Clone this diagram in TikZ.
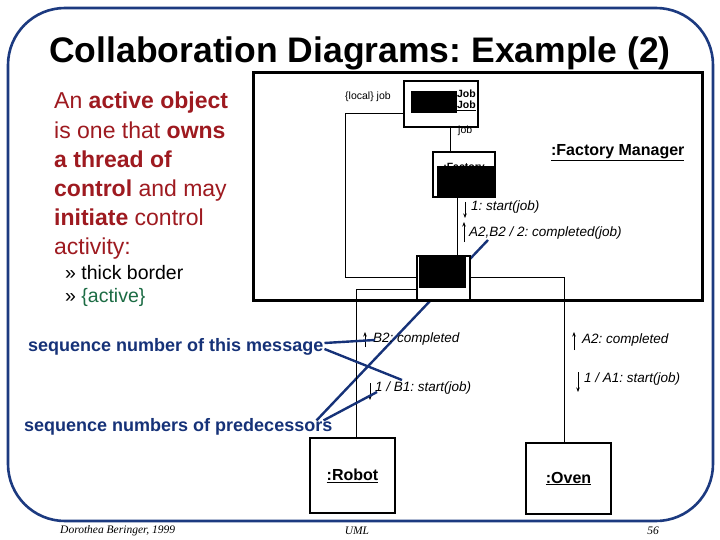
\documentclass[tikz,border=0pt]{standalone}
\usepackage{fontspec}
\setmainfont{Liberation Sans}
\newfontfamily\footfont{Liberation Serif}
\usetikzlibrary{arrows.meta}
\frenchspacing

\definecolor{frameblue}{RGB}{28,58,128}
\definecolor{noteblue}{RGB}{22,50,120}
\definecolor{introred}{RGB}{158,26,32}
\definecolor{activegreen}{RGB}{28,108,68}

\begin{document}
\begin{tikzpicture}[x=1pt,y=-1pt,
    obj/.style={draw,fill=white,line width=1.3pt,inner sep=0pt},
    link/.style={draw,line width=0.9pt},
    msg/.style={anchor=west,inner sep=0pt,font=\fontsize{13.5}{15}\selectfont\itshape},
    note/.style={anchor=west,inner sep=0pt,text=noteblue,font=\fontsize{18}{20}\selectfont\bfseries},
    pointer/.style={noteblue,line width=2.4pt},
    msgarrow/.style={-{Stealth[length=4.5pt,width=3.5pt]},line width=0.7pt},
    small/.style={inner sep=0pt,font=\fontsize{10.5}{12}\selectfont}]

\useasboundingbox (0,0) rectangle (720,540);
\fill[white] (0,0) rectangle (720,540);
\draw[frameblue,line width=2.6pt,rounded corners=57pt] (8,8) rectangle (713,521);

\node[font=\fontsize{35.5}{40}\selectfont\bfseries] (title) at (360,53) {Collaboration Diagrams: Example (2)};

\node[anchor=north west,align=left,inner sep=0pt,text=introred,font=\fontsize{23}{29.2}\selectfont] (intro) at (54,92)
  {An \textbf{active object}\\is one that \textbf{owns}\\\textbf{a thread of}\\\textbf{control} and may\\\textbf{initiate} control\\activity:};
\node[anchor=north west,align=left,inner sep=0pt,font=\fontsize{19.5}{23}\selectfont] (bullets) at (65,265)
  {» thick border\\» \textcolor{activegreen}{\{active\}}};

% annotations
\node[note] (seqthis) at (28,347) {sequence number of this message};
\node[note] (seqpred) at (24,427) {sequence numbers of predecessors};
\coordinate (tB2) at (375,340);
\coordinate (tB1) at (402,380);
\coordinate (tOne) at (377,392);
\coordinate (tA2B2) at (488,240);
\draw[pointer] ([xshift=-16pt,yshift=-2pt]seqpred.north east) -- (tA2B2);

% objects
\node[draw,line width=3pt,minimum width=449pt,minimum height=227pt,inner sep=0pt] (fm) at (477.5,186.5) {};
\node[anchor=east,font=\fontsize{16}{18}\selectfont\bfseries] (fmlabel) at (688,153) {\underline{:Factory Manager}};

\node[obj,minimum width=74pt,minimum height=46pt] (job) at (441,104) {};
\node[obj,minimum width=62pt,minimum height=45pt] (factory) at (464,174.5) {};
\node[obj,line width=1.6pt,minimum width=53pt,minimum height=44pt] (active) at (443.5,278) {};
\node[obj,line width=1.8pt,minimum width=85pt,minimum height=75pt,font=\fontsize{16}{18}\selectfont\bfseries] (robot) at (352.5,475.5) {\underline{:Robot}};
\node[obj,line width=1.8pt,minimum width=85pt,minimum height=71pt,font=\fontsize{16}{18}\selectfont\bfseries] (oven) at (568.5,478.5) {\underline{:Oven}};

\node[small,anchor=east,font=\fontsize{10.5}{12}\selectfont\bfseries] (jobtop) at (476,94) {aJob};
\node[small,anchor=east,font=\fontsize{10.5}{12}\selectfont\bfseries] (jobbot) at (476,106) {\underline{:Job}};
\node[small,font=\fontsize{10.5}{12}\selectfont\bfseries] (factext) at (464,168) {:Factory};

\fill[black] (411,91) rectangle (457,113);
\fill[black] (437,166) rectangle (495,197);
\fill[black] (419,257) rectangle (466,288);

\node[small,anchor=west] (local) at (345,97) {\{local\} job};
\node[small,anchor=west] (joblabel) at (458,131) {job};

% links
\draw[link] ([xshift=9pt]job.south) -- ([xshift=9pt]job.south |- factory.north);
\draw[link] ([xshift=-7pt]factory.south) -- ([xshift=-7pt]factory.south |- active.north);
\draw[link] ([yshift=-9pt]job.west) -- ++(-58,0) |- ([yshift=1pt]active.west);
\draw[link] ([yshift=1pt]active.east) -| ([xshift=-4.5pt]oven.north);
\draw[link] ([yshift=-11pt]active.west) -| ([xshift=3.5pt]robot.north);

% messages
\node[msg] (m1) at (471,207) {1: start(job)};
\node[msg] (m2) at (469,233) {A2,B2 / 2: completed(job)};
\node[msg] (m3) at (373,339) {B2: completed};
\node[msg] (m4) at (375,388) {1 / B1: start(job)};
\node[msg] (m5) at (582,340) {A2: completed};
\node[msg] (m6) at (584,379) {1 / A1: start(job)};

\draw[msgarrow] ([shift={(-6pt,5pt)}]m1.west) -- ++(0pt,-16pt);
\draw[msgarrow] ([shift={(-5pt,-9pt)}]m2.west) -- ++(0pt,20pt);
\draw[msgarrow] ([shift={(-8pt,-8pt)}]m3.west) -- ++(0pt,15pt);
\draw[msgarrow] ([shift={(-5pt,5pt)}]m4.west) -- ++(0pt,-17pt);
\draw[msgarrow] ([shift={(-8pt,-10pt)}]m5.west) -- ++(0pt,18pt);
\draw[msgarrow] ([shift={(-6pt,7pt)}]m6.west) -- ++(0pt,-20pt);

\draw[pointer] ([xshift=1pt,yshift=4pt]seqthis.east) -- (tB2);
\draw[pointer] ([xshift=1pt,yshift=-2pt]seqthis.east) -- (tB1);
\draw[pointer] ([xshift=-9pt,yshift=-2pt]seqpred.north east) -- (tOne);

% footer
\node[anchor=west,inner sep=0pt,font=\footfont\itshape\fontsize{11.5}{13}\selectfont] (author) at (60,531) {Dorothea Beringer, 1999};
\node[inner sep=0pt,font=\footfont\itshape\fontsize{11.5}{13}\selectfont] (topic) at (357,531) {UML};
\node[inner sep=0pt,font=\footfont\itshape\fontsize{11.5}{13}\selectfont] (page) at (653,531) {56};
\end{tikzpicture}
\end{document}
